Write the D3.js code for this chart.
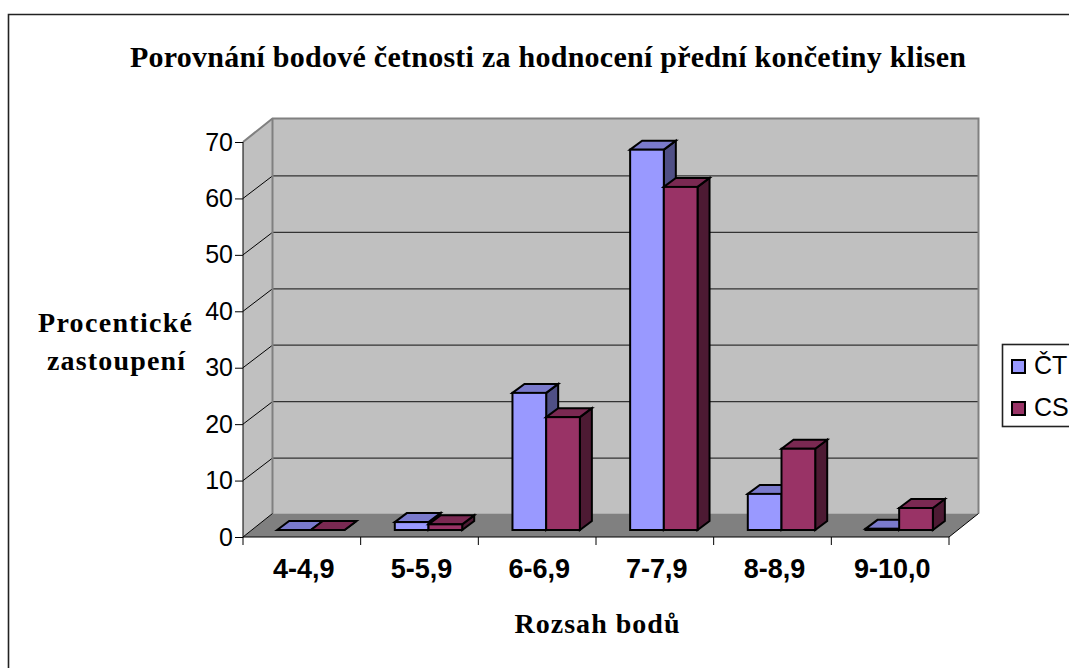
<!DOCTYPE html>
<html><head><meta charset="utf-8">
<script src="https://cdnjs.cloudflare.com/ajax/libs/d3/7.8.5/d3.min.js"></script>
<style>html,body{margin:0;padding:0;background:#fff;overflow:hidden}svg{display:block}</style>
</head><body><svg id="c" width="1069" height="668"></svg>
<script>
const categories = ["4-4,9","5-5,9","6-6,9","7-7,9","8-8,9","9-10,0"];
const seriesNames = ["ČT","CS"];
const ct = [0,1.4,24.3,67.4,6.4,0.2];
const cs = [0,1,20,60.8,14.4,3.9];
const yTicks = [0,10,20,30,40,50,60,70];
const fills = [{front:"#9999ff",top:"#7a7acc",side:"#4f4f85"},{front:"#993366",top:"#7a2952",side:"#4d1a33"}];
const title = "Porovnání bodové četnosti za hodnocení přední končetiny klisen";

const svg = d3.select("#c");
const x = d3.scaleBand().domain(categories).range([243,949]).paddingInner(0).paddingOuter(0);
const y = d3.scaleLinear().domain([0,70]).range([537,142]);
const DX=29.5, DY=-23.5;
const serif="'Liberation Serif',serif", sans="'Liberation Sans',Arial,sans-serif";
const pts=a=>a.map(p=>p.join(",")).join(" ");

svg.append("path").attr("d","M1100,14.5H8.5V668").attr("fill","none").attr("stroke","#222").attr("stroke-width",1.6);

const xL=x.range()[0], xR=x.range()[1], y0=y(0), yT=y(70);
// walls
svg.append("polygon").attr("points",pts([[xL+DX,yT+DY],[xR+DX,yT+DY],[xR+DX,y0+DY],[xL+DX,y0+DY]])).attr("fill","#c0c0c0");
svg.append("polygon").attr("points",pts([[xL,yT],[xL+DX,yT+DY],[xL+DX,y0+DY],[xL,y0]])).attr("fill","#c0c0c0");
svg.append("polygon").attr("points",pts([[xL,y0],[xL+DX,y0+DY],[xR+DX,y0+DY],[xR,y0]])).attr("fill","#808080");
// gridlines
yTicks.filter(t=>t>0&&t<70).forEach(t=>{
  svg.append("line").attr("x1",xL).attr("y1",y(t)).attr("x2",xL+DX).attr("y2",y(t)+DY+1).attr("stroke","#000").attr("stroke-width",1);
  svg.append("line").attr("x1",xL+DX).attr("y1",y(t)+DY+1).attr("x2",xR+DX).attr("y2",y(t)+DY+1).attr("stroke","#333").attr("stroke-width",1.3);
});
// wall outline
svg.append("polyline").attr("points",pts([[xL,yT],[xL+DX,yT+DY],[xR+DX,yT+DY],[xR+DX,y0+DY]])).attr("fill","none").attr("stroke","#808080").attr("stroke-width",2);
svg.append("line").attr("x1",xL+DX).attr("y1",yT+DY).attr("x2",xL+DX).attr("y2",y0+DY).attr("stroke","#808080").attr("stroke-width",2);
svg.append("line").attr("x1",xL).attr("y1",y0).attr("x2",xL+DX).attr("y2",y0+DY).attr("stroke","#000").attr("stroke-width",1);
svg.append("line").attr("x1",xR).attr("y1",y0).attr("x2",xR+DX).attr("y2",y0+DY).attr("stroke","#000").attr("stroke-width",1);

// bars
const barW=33.7, bdx=12, bdy=-9, ox=9, oy=-7;
const unit=y(0)-y(1);
categories.forEach((c,i)=>{
  const band=x(c), start=band+(x.bandwidth()-2*barW)/2+ox, base=y0+oy;
  [ct[i],cs[i]].forEach((v,s)=>{
    const l=start+s*barW, r=l+barW, t=base-v*unit, f=fills[s];
    const g=svg.append("g").attr("stroke","#000").attr("stroke-width",2).attr("stroke-linejoin","miter");
    g.append("polygon").attr("points",pts([[r,t],[r+bdx,t+bdy],[r+bdx,base+bdy],[r,base]])).attr("fill",f.side);
    g.append("polygon").attr("points",pts([[l,t],[l+bdx,t+bdy],[r+bdx,t+bdy],[r,t]])).attr("fill",f.top);
    g.append("rect").attr("x",l).attr("y",t).attr("width",barW).attr("height",v*unit).attr("fill",f.front);
  });
});

// axes
const yAxis=d3.axisLeft(y).tickValues(yTicks).tickSize(8).tickFormat(d3.format("d"));
const gy=svg.append("g").attr("transform",`translate(${xL},0)`).call(yAxis);
gy.selectAll("text").attr("font-family",sans).attr("font-size",25).attr("fill","#000").attr("x",-10);
gy.selectAll("line").attr("stroke","#000"); gy.select(".domain").attr("stroke","#000").attr("d",`M0,${yT}V${y0}`);
const xAxis=d3.axisBottom(x).tickSize(0).tickPadding(22);
const gx=svg.append("g").attr("transform",`translate(0,${y0})`).call(xAxis);
gx.select(".domain").attr("stroke","#000").attr("d",`M${xL},0H${xR}`);
gx.selectAll("text").attr("font-family",sans).attr("font-size",27).attr("font-weight","bold").attr("fill","#000").attr("x",2);
d3.range(categories.length+1).forEach(i=>{
  const px=xL+i*x.step();
  gx.append("line").attr("x1",px).attr("x2",px).attr("y1",0).attr("y2",8).attr("stroke","#000");
});

// titles
svg.append("text").attr("x",548).attr("y",67).attr("text-anchor","middle").attr("font-family",serif).attr("font-weight","bold").attr("font-size",30)
  .attr("textLength",836).attr("lengthAdjust","spacing").text(title);
svg.append("text").attr("x",115).attr("y",332).attr("text-anchor","middle").attr("font-family",serif).attr("font-weight","bold").attr("font-size",28)
  .attr("textLength",154).attr("lengthAdjust","spacing").text("Procentické");
svg.append("text").attr("x",116).attr("y",370).attr("text-anchor","middle").attr("font-family",serif).attr("font-weight","bold").attr("font-size",28)
  .attr("textLength",138).attr("lengthAdjust","spacing").text("zastoupení");
svg.append("text").attr("x",597).attr("y",633).attr("text-anchor","middle").attr("font-family",serif).attr("font-weight","bold").attr("font-size",28)
  .attr("textLength",165).attr("lengthAdjust","spacing").text("Rozsah bodů");

// legend
svg.append("rect").attr("x",1002.5).attr("y",344.5).attr("width",120).attr("height",82).attr("fill","#fff").attr("stroke","#222").attr("stroke-width",1.6);
seriesNames.forEach((n,i)=>{
  const cy=366.5+i*42;
  svg.append("rect").attr("x",1012).attr("y",cy-6.5).attr("width",13).attr("height",13).attr("fill",fills[i].front).attr("stroke","#000").attr("stroke-width",2);
  svg.append("text").attr("x",1034).attr("y",cy+7).attr("font-family",sans).attr("font-size",25).attr("fill","#000").text(n);
});
</script></body></html>
